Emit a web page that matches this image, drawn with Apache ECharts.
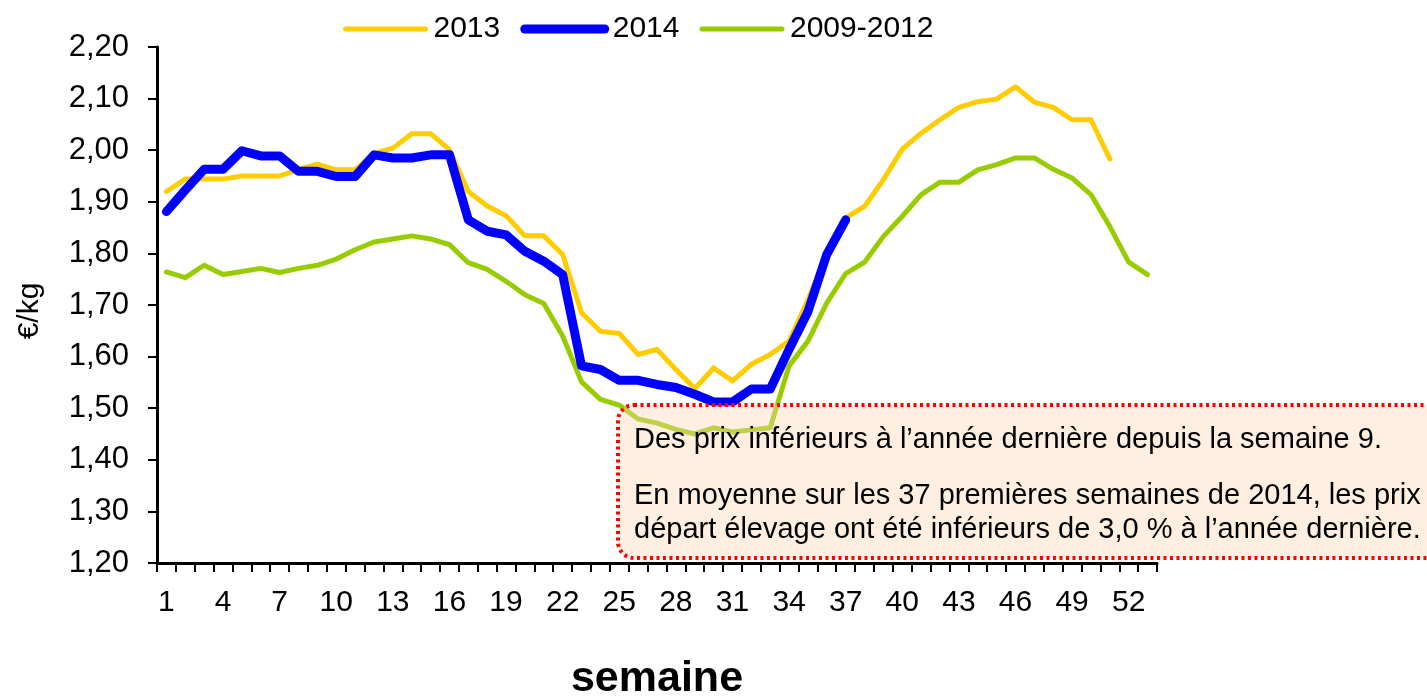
<!DOCTYPE html>
<html><head><meta charset="utf-8">
<script src="https://cdn.jsdelivr.net/npm/echarts@6/dist/echarts.min.js"></script>
<style>html,body{margin:0;padding:0;background:#fff}#c{width:1427px;height:696px}</style>
</head><body><div id="c"></div>
<script>
const weeks = ['1','2','3','4','5','6','7','8','9','10','11','12','13','14','15','16','17','18','19','20','21','22','23','24','25','26','27','28','29','30','31','32','33','34','35','36','37','38','39','40','41','42','43','44','45','46','47','48','49','50','51','52','53'];
const y2013 = [1.92,1.944,1.944,1.944,1.95,1.95,1.95,1.963,1.973,1.962,
  1.962,1.994,2.004,2.032,2.032,2.001,1.92,1.892,1.873,1.834,
  1.834,1.798,1.685,1.649,1.645,1.604,1.614,1.575,1.538,1.578,
  1.553,1.585,1.604,1.63,1.71,1.80,1.869,1.891,1.943,2.002,
  2.033,2.059,2.083,2.094,2.099,2.123,2.093,2.083,2.059,2.059,1.983];
const y2014 = [1.881,1.923,1.963,1.963,1.999,1.989,1.989,1.959,1.959,1.949,
  1.949,1.991,1.985,1.985,1.991,1.991,1.865,1.843,1.836,1.804,
  1.785,1.759,1.582,1.575,1.554,1.554,1.546,1.54,1.527,1.512,
  1.512,1.537,1.537,1.614,1.687,1.798,1.865];
const y0912 = [1.764,1.753,1.777,1.759,1.765,1.771,1.763,1.771,1.777,1.789,
  1.807,1.822,1.828,1.834,1.828,1.817,1.782,1.769,1.746,1.72,
  1.703,1.64,1.551,1.517,1.506,1.479,1.471,1.459,1.45,1.462,
  1.454,1.458,1.462,1.582,1.63,1.704,1.761,1.783,1.833,1.872,
  1.914,1.938,1.938,1.962,1.972,1.985,1.985,1.963,1.946,1.914,
  1.852,1.783,1.759];
const seriesNames = ['2013','2014','2009-2012'];
const noteLines = [
  'Des prix inférieurs à l\u2019année dernière depuis la semaine 9.',
  'En moyenne sur les 37 premières semaines de 2014, les prix',
  'départ élevage ont été inférieurs de 3,0 % à l\u2019année dernière.'
];

const FONT = 'Liberation Sans, Arial, sans-serif';
const chart = echarts.init(document.getElementById('c'));
const lineS = (name, data, color, width, z) => ({
  name, type: 'line', data, symbol: 'none', z,
  lineStyle: { color, width, cap: 'round', join: 'round' },
  itemStyle: { color }
});
chart.setOption({
  animation: false,
  textStyle: { fontFamily: FONT },
  grid: { left: 157, top: 47, right: 270, bottom: 133, containLabel: false, outerBoundsMode: 'none' },
  legend: {
    left: 338, top: 9, itemWidth: 80, itemHeight: 30, itemGap: 20,
    itemStyle: { opacity: 0 },
    lineStyle: { width: 'inherit', cap: 'round' },
    textStyle: { fontSize: 30, color: '#000', fontFamily: FONT, padding: [0, 0, 0, 3] },
    data: seriesNames
  },
  xAxis: {
    type: 'category', data: weeks, boundaryGap: true,
    name: 'semaine', nameLocation: 'middle', nameGap: 95,
    nameTextStyle: { fontSize: 43, fontWeight: 'bold', color: '#000', fontFamily: FONT },
    axisLine: { lineStyle: { color: '#000', width: 3 } },
    axisTick: { show: true, interval: 0, length: 9, lineStyle: { color: '#000', width: 2 } },
    axisLabel: { interval: 2, fontSize: 30, color: '#000', margin: 25, fontFamily: FONT },
    splitLine: { show: false }
  },
  yAxis: {
    type: 'value', min: 1.2, max: 2.2, interval: 0.1,
    name: '€/kg', nameLocation: 'middle', nameGap: 112, nameRotate: 90,
    nameTextStyle: { fontSize: 30, color: '#000', fontFamily: FONT, padding: [0, 12, 0, 0] },
    axisLine: { show: true, lineStyle: { color: '#000', width: 3 } },
    axisTick: { show: true, length: 9, lineStyle: { color: '#000', width: 2 } },
    axisLabel: { fontSize: 31, color: '#000', margin: 28, fontFamily: FONT,
      formatter: v => v.toFixed(2).replace('.', ',') },
    splitLine: { show: false }
  },
  series: [
    lineS(seriesNames[0], y2013, '#FFCC00', 5, 2),
    lineS(seriesNames[1], y2014, '#0000FF', 9, 4),
    lineS(seriesNames[2], y0912, '#99CC00', 5, 3)
  ],
  graphic: [
    { type: 'rect', z: 100, shape: { x: 618, y: 405, width: 840, height: 153, r: 16 },
      style: { fill: 'rgba(252,215,180,0.4)', stroke: '#FF0000', lineWidth: 4, lineDash: [3, 3.5] } },
    { type: 'text', z: 101, left: 634, top: 425,
      style: { text: noteLines[0], font: '29px ' + FONT, fill: '#000' } },
    { type: 'text', z: 101, left: 634, top: 481,
      style: { text: noteLines[1], font: '29px ' + FONT, fill: '#000' } },
    { type: 'text', z: 101, left: 634, top: 515,
      style: { text: noteLines[2], font: '29px ' + FONT, fill: '#000' } }
  ]
});
</script></body></html>
